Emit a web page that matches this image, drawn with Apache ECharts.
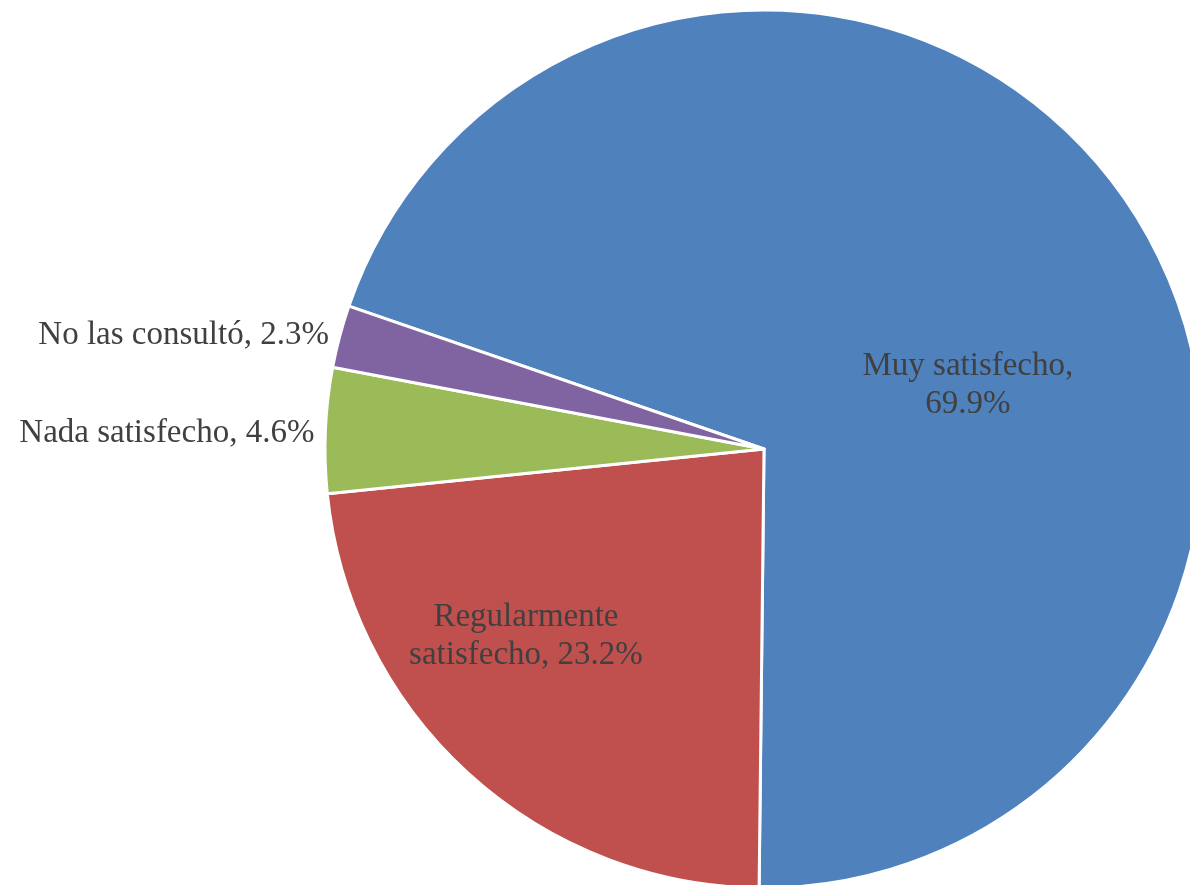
<!DOCTYPE html>
<html><head><meta charset="utf-8">
<script src="https://cdn.jsdelivr.net/npm/echarts@6/dist/echarts.min.js"></script>
<style>html,body{margin:0;padding:0;background:#fff}#c{width:1190px;height:885px}</style>
</head><body><div id="c"></div>
<script>
const categories = ['Muy satisfecho', 'Regularmente satisfecho', 'Nada satisfecho', 'No las consultó'];
const values = [69.9, 23.2, 4.6, 2.3];
const labelTexts = ['Muy satisfecho,\n69.9%', 'Regularmente\nsatisfecho, 23.2%', 'Nada satisfecho, 4.6%', 'No las consultó, 2.3%'];
const colors = ['#4F81BD', '#C0504D', '#9BBB59', '#8064A2'];

const labelStyles = [
  {position: 'inside', offset: [22, 65]},
  {position: 'inside', offset: [-88, 23]},
  {position: 'outside', offset: [0, 3]},
  {position: 'outside'}
];

const chart = echarts.init(document.getElementById('c'));
chart.setOption({
  animation: false,
  series: [{
    type: 'pie',
    center: [764, 449],
    radius: 439,
    startAngle: 161,
    clockwise: true,
    avoidLabelOverlap: false,
    itemStyle: {borderColor: '#fff', borderWidth: 3},
    labelLine: {show: false, length: 6, length2: 0},
    label: {
      color: '#404040',
      fontFamily: 'Liberation Serif',
      fontSize: 33,
      lineHeight: 38,
      align: 'center'
    },
    data: categories.map((c, i) => ({
      name: c,
      value: values[i],
      itemStyle: {color: colors[i]},
      label: Object.assign({formatter: labelTexts[i]}, labelStyles[i])
    }))
  }]
});
</script></body></html>
